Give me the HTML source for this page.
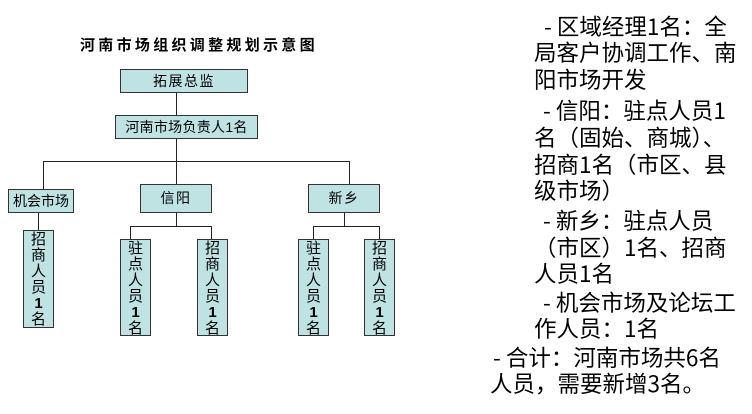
<!DOCTYPE html>
<html><head><meta charset="utf-8"><style>
html,body{margin:0;padding:0;background:#fff;}
body{width:752px;height:414px;position:relative;overflow:hidden;font-family:"Liberation Sans","WenQuanYi Zen Hei",sans-serif;color:#000;}
.b{position:absolute;background:#bfe3e3;border:1px solid #333;box-sizing:border-box;font-size:14px;text-align:center;white-space:nowrap;letter-spacing:1.5px;font-family:"Liberation Sans","WenQuanYi Zen Hei",sans-serif;}
.v{position:absolute;background:#bfe3e3;border:1px solid #333;box-sizing:border-box;font-size:15px;text-align:center;line-height:16px;overflow:hidden;padding-top:1px;font-family:"Liberation Sans","WenQuanYi Zen Hei",sans-serif;}
.v b{font-weight:bold;}
.l{position:absolute;background:#222;}
.t{position:absolute;font-size:22.5px;line-height:26px;white-space:nowrap;font-family:"WenQuanYi Zen Hei","Noto Sans CJK SC",sans-serif;}
</style></head><body>
<div style="position:absolute;left:80px;top:36px;font-size:15px;font-weight:bold;letter-spacing:3.3px;white-space:nowrap;line-height:17px;font-family:'Noto Sans CJK SC',sans-serif;">河南市场组织调整规划示意图</div>

<div class="l" style="left:176px;top:92px;width:1px;height:23px;"></div>
<div class="l" style="left:176px;top:138px;width:1px;height:23px;"></div>
<div class="l" style="left:43px;top:161px;width:307px;height:1px;"></div>
<div class="l" style="left:43px;top:161px;width:1px;height:29px;"></div>
<div class="l" style="left:176px;top:161px;width:1px;height:23px;"></div>
<div class="l" style="left:349px;top:161px;width:1px;height:23px;"></div>
<div class="l" style="left:38px;top:212px;width:1px;height:18px;"></div>
<div class="l" style="left:176px;top:212px;width:1px;height:15px;"></div>
<div class="l" style="left:130px;top:226px;width:82px;height:1px;"></div>
<div class="l" style="left:130px;top:226px;width:1px;height:14px;"></div>
<div class="l" style="left:211px;top:226px;width:1px;height:14px;"></div>
<div class="l" style="left:344px;top:212px;width:1px;height:15px;"></div>
<div class="l" style="left:313px;top:226px;width:67px;height:1px;"></div>
<div class="l" style="left:313px;top:226px;width:1px;height:14px;"></div>
<div class="l" style="left:379px;top:226px;width:1px;height:14px;"></div>

<div class="b" style="left:120px;top:69px;width:128px;height:24px;line-height:22px;">拓展总监</div>
<div class="b" style="left:115px;top:115px;width:143px;height:24px;line-height:22px;letter-spacing:0.3px;">河南市场负责人1名</div>
<div class="b" style="left:8px;top:189px;width:66px;height:24px;line-height:22px;letter-spacing:0;">机会市场</div>
<div class="b" style="left:140px;top:184px;width:72px;height:29px;line-height:27px;">信阳</div>
<div class="b" style="left:308px;top:184px;width:72px;height:29px;line-height:27px;">新乡</div>

<div class="v" style="left:23px;top:230px;width:31px;height:98px;">招<br>商<br>人<br>员<br><b>1</b><br>名</div>
<div class="v" style="left:120px;top:239px;width:31px;height:97px;">驻<br>点<br>人<br>员<br><b>1</b><br>名</div>
<div class="v" style="left:197px;top:239px;width:31px;height:97px;">招<br>商<br>人<br>员<br><b>1</b><br>名</div>
<div class="v" style="left:298px;top:239px;width:31px;height:97px;">驻<br>点<br>人<br>员<br><b>1</b><br>名</div>
<div class="v" style="left:364px;top:239px;width:31px;height:97px;">招<br>商<br>人<br>员<br><b>1</b><br>名</div>

<div class="t" style="left:544px;top:13px;">- 区域经理1名：全</div>
<div class="t" style="left:534px;top:39px;">局客户协调工作、南</div>
<div class="t" style="left:534px;top:66px;">阳市场开发</div>
<div class="t" style="left:543px;top:97px;">- 信阳：驻点人员1</div>
<div class="t" style="left:534px;top:124px;">名（固始、商城）、</div>
<div class="t" style="left:534px;top:151px;">招商1名（市区、县</div>
<div class="t" style="left:534px;top:177px;">级市场）</div>
<div class="t" style="left:543px;top:207px;">- 新乡：驻点人员</div>
<div class="t" style="left:534px;top:234px;">（市区）1名、招商</div>
<div class="t" style="left:534px;top:260px;">人员1名</div>
<div class="t" style="left:543px;top:289px;">- 机会市场及论坛工</div>
<div class="t" style="left:534px;top:315px;">作人员：1名</div>
<div class="t" style="left:493px;top:344px;">- 合计：河南市场共6名</div>
<div class="t" style="left:490px;top:370px;">人员，需要新增3名。</div>
</body></html>
